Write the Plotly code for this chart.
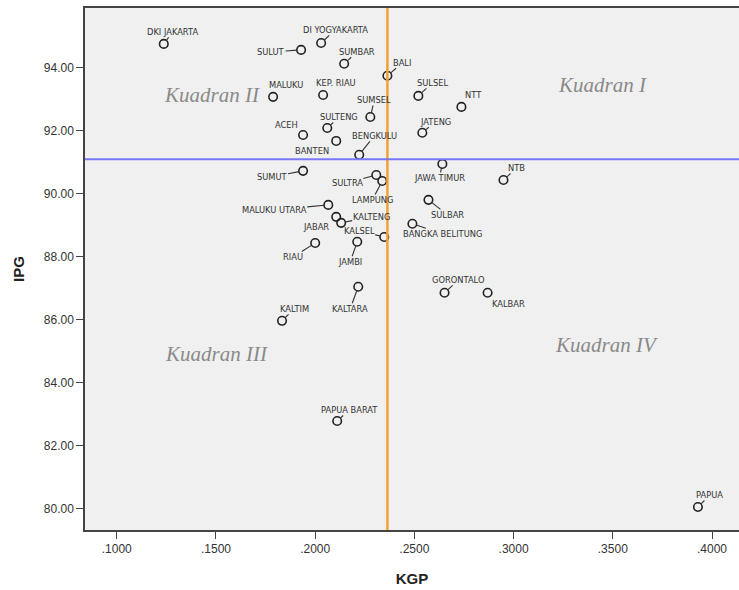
import plotly.graph_objects as go

# Province data: KGP (x) and IPG (y)
provinces = [
    "DKI JAKARTA", "DI YOGYAKARTA", "SULUT", "SUMBAR", "BALI", "MALUKU",
    "KEP. RIAU", "SULSEL", "NTT", "SUMSEL", "SULTENG", "ACEH", "BANTEN",
    "BENGKULU", "JATENG", "JAWA TIMUR", "NTB", "SUMUT", "SULTRA", "LAMPUNG",
    "MALUKU UTARA", "JABAR", "KALTENG", "KALSEL", "SULBAR", "BANGKA BELITUNG",
    "RIAU", "JAMBI", "GORONTALO", "KALBAR", "KALTIM", "KALTARA",
    "PAPUA BARAT", "PAPUA",
]
kgp = [
    0.1237, 0.2030, 0.1929, 0.2146, 0.2364, 0.1788,
    0.2040, 0.2520, 0.2737, 0.2278, 0.2061, 0.1939, 0.2106,
    0.2222, 0.2540, 0.2641, 0.2949, 0.1939, 0.2308, 0.2338,
    0.2066, 0.2106, 0.2131, 0.2348, 0.2571, 0.2490,
    0.2000, 0.2212, 0.2652, 0.2869, 0.1833, 0.2217,
    0.2111, 0.3929,
]
ipg = [
    94.76, 94.79, 94.57, 94.13, 93.75, 93.08,
    93.14, 93.11, 92.76, 92.44, 92.09, 91.87, 91.68,
    91.24, 91.94, 90.95, 90.44, 90.73, 90.60, 90.41,
    89.65, 89.27, 89.08, 88.63, 89.81, 89.05,
    88.44, 88.48, 86.86, 86.86, 85.97, 87.05,
    82.79, 80.06,
]

x_ticks = [0.10, 0.15, 0.20, 0.25, 0.30, 0.35, 0.40]
y_ticks = [80, 82, 84, 86, 88, 90, 92, 94]

KGP_REF = 0.2364
IPG_REF = 91.1

quadrants = [
    ("Kuadran I", 0.3450, 93.46),
    ("Kuadran II", 0.1480, 93.14),
    ("Kuadran III", 0.1505, 84.92),
    ("Kuadran IV", 0.3470, 85.21),
]

# label offsets in pixels (dx right, dy down) and whether a leader line is drawn
label_pos = {
    "DKI JAKARTA": (9, -12, True), "DI YOGYAKARTA": (14, -13, True),
    "SULUT": (-30, 2, True), "SUMBAR": (13, -12, True), "BALI": (15, -13, True),
    "MALUKU": (13, -12, False), "KEP. RIAU": (13, -12, False),
    "SULSEL": (14, -13, True), "NTT": (12, -12, False), "SUMSEL": (4, -17, True),
    "SULTENG": (12, -11, True), "ACEH": (-17, -10, False), "BANTEN": (-24, 10, False),
    "BENGKULU": (15, -19, True), "JATENG": (13, -11, True),
    "JAWA TIMUR": (-3, 14, True), "NTB": (13, -12, True), "SUMUT": (-31, 6, True),
    "SULTRA": (-29, 8, True), "LAMPUNG": (-10, 19, True),
    "MALUKU UTARA": (-54, 5, True), "JABAR": (-20, 10, False),
    "KALTENG": (30, -6, True), "KALSEL": (-25, -6, True), "SULBAR": (19, 15, True),
    "BANGKA BELITUNG": (30, 10, True), "RIAU": (-22, 14, True),
    "JAMBI": (-7, 20, True), "GORONTALO": (14, -13, True), "KALBAR": (21, 11, False),
    "KALTIM": (12, -12, True), "KALTARA": (-8, 22, True),
    "PAPUA BARAT": (12, -11, True), "PAPUA": (12, -12, True),
}

fig = go.Figure()

fig.add_shape(type="line", xref="x", yref="y domain", x0=KGP_REF, x1=KGP_REF,
              y0=0, y1=1, line=dict(color="#f5a030", width=2.5))
fig.add_shape(type="line", xref="x domain", yref="y", x0=0, x1=1,
              y0=IPG_REF, y1=IPG_REF, line=dict(color="#7878f8", width=2))

fig.add_trace(go.Scatter(
    x=kgp, y=ipg, mode="markers", text=provinces,
    marker=dict(symbol="circle-open", size=8.5, color="#222222",
                line=dict(width=1.6, color="#222222")),
    hoverinfo="text+x+y", showlegend=False,
))

label_font = dict(family="DejaVu Sans, sans-serif", size=8.3, color="#333333")
for name, x, y in zip(provinces, kgp, ipg):
    dx, dy, leader = label_pos[name]
    fig.add_annotation(
        x=x, y=y, text=name, ax=dx, ay=dy, showarrow=True,
        arrowhead=0, arrowwidth=1.1, standoff=4,
        arrowcolor="#333333" if leader else "rgba(0,0,0,0)",
        font=label_font, borderpad=0,
    )

for text, x, y in quadrants:
    fig.add_annotation(
        x=x, y=y, text=text, showarrow=False,
        font=dict(family="Liberation Serif, Georgia, serif", size=21, color="#8a8a8a",
                  style="italic"),
    )

axis_common = dict(
    showgrid=False, zeroline=False, showline=True, linecolor="#444444",
    linewidth=1.5, ticks="outside", ticklen=7, tickcolor="#444444", tickwidth=1,
    tickfont=dict(family="Liberation Sans, Arial, sans-serif", size=12, color="#333333"),
)

fig.update_xaxes(
    **axis_common, range=[0.0840, 0.4136], mirror=True,
    tickvals=x_ticks, ticktext=[f"{v:.4f}"[1:] for v in x_ticks],
    title=dict(text="<b>KGP</b>", standoff=18,
               font=dict(family="Liberation Sans, Arial, sans-serif", size=15, color="#222222")),
)
fig.update_yaxes(
    **axis_common, range=[79.33, 95.9],
    tickvals=y_ticks, ticktext=[f"{v:.2f}" for v in y_ticks],
    title=dict(text="<b>IPG</b>", standoff=16,
               font=dict(family="Liberation Sans, Arial, sans-serif", size=15, color="#222222")),
)

fig.update_layout(
    width=739, height=590,
    margin=dict(l=85, r=0, t=8, b=60),
    plot_bgcolor="#f0f0f0", paper_bgcolor="#ffffff",
)

fig.write_html("out.html")
